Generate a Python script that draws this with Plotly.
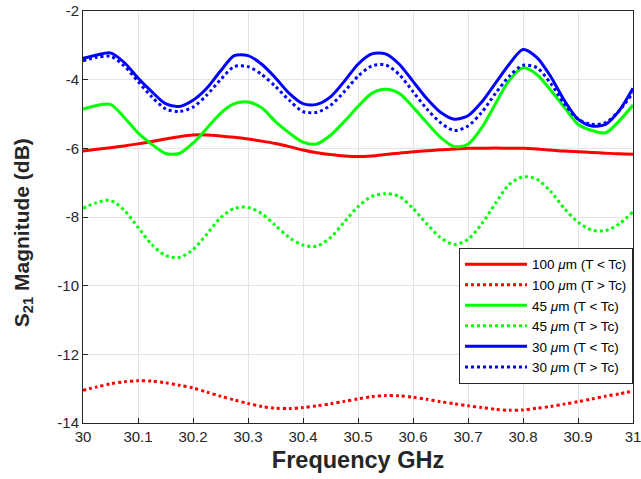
import plotly.graph_objects as go

freq = [30.000, 30.025, 30.050, 30.075, 30.100, 30.125, 30.150, 30.175, 30.200, 30.225,
        30.250, 30.275, 30.300, 30.325, 30.350, 30.375, 30.400, 30.425, 30.450, 30.475,
        30.500, 30.525, 30.550, 30.575, 30.600, 30.625, 30.650, 30.675, 30.700, 30.725,
        30.750, 30.775, 30.800, 30.825, 30.850, 30.875, 30.900, 30.925, 30.950, 30.975, 31.000]

red_below = [-6.08, -6.03, -5.98, -5.93, -5.87, -5.80, -5.73, -5.66, -5.61, -5.61,
             -5.64, -5.68, -5.73, -5.79, -5.86, -5.95, -6.05, -6.13, -6.18, -6.22,
             -6.24, -6.22, -6.18, -6.14, -6.10, -6.07, -6.04, -6.02, -6.00, -6.00,
             -5.99, -6.00, -6.00, -6.02, -6.05, -6.08, -6.10, -6.12, -6.14, -6.16, -6.17]

red_above = [-13.05, -12.95, -12.86, -12.80, -12.77, -12.78, -12.83, -12.90, -12.98, -13.10,
             -13.22, -13.33, -13.43, -13.52, -13.57, -13.58, -13.55, -13.50, -13.44, -13.37,
             -13.30, -13.23, -13.20, -13.21, -13.25, -13.31, -13.38, -13.44, -13.50, -13.55,
             -13.60, -13.63, -13.62, -13.57, -13.52, -13.45, -13.38, -13.30, -13.22, -13.15, -13.07]

green_below = [-4.86, -4.75, -4.72, -5.10, -5.55, -5.88, -6.15, -6.15, -5.85, -5.42,
               -4.98, -4.70, -4.65, -4.82, -5.22, -5.55, -5.82, -5.87, -5.62, -5.22,
               -4.78, -4.40, -4.28, -4.40, -4.80, -5.25, -5.68, -5.95, -5.88, -5.40,
               -4.70, -4.02, -3.65, -3.85, -4.30, -4.80, -5.30, -5.48, -5.55, -5.20, -4.74]

green_above = [-7.75, -7.58, -7.52, -7.80, -8.30, -8.80, -9.12, -9.18, -8.95, -8.50,
               -8.02, -7.75, -7.72, -7.90, -8.25, -8.60, -8.82, -8.85, -8.60, -8.15,
               -7.70, -7.40, -7.32, -7.40, -7.75, -8.20, -8.60, -8.80, -8.65, -8.20,
               -7.60, -7.05, -6.83, -6.90, -7.25, -7.75, -8.15, -8.38, -8.40, -8.20, -7.85]

blue_below = [-3.38, -3.28, -3.22, -3.50, -3.95, -4.35, -4.70, -4.78, -4.60, -4.25,
              -3.75, -3.30, -3.30, -3.55, -3.95, -4.40, -4.70, -4.72, -4.50, -4.05,
              -3.55, -3.25, -3.25, -3.55, -4.05, -4.55, -4.95, -5.15, -5.05, -4.65,
              -4.10, -3.55, -3.12, -3.35, -3.90, -4.60, -5.15, -5.35, -5.30, -4.90, -4.25]

blue_above = [-3.45, -3.35, -3.32, -3.60, -4.05, -4.50, -4.85, -4.93, -4.80, -4.45,
              -4.00, -3.62, -3.62, -3.85, -4.20, -4.60, -4.93, -4.95, -4.75, -4.35,
              -3.90, -3.60, -3.57, -3.85, -4.35, -4.85, -5.25, -5.48, -5.35, -4.95,
              -4.40, -3.90, -3.58, -3.65, -4.10, -4.70, -5.15, -5.30, -5.25, -4.90, -4.38]

series = [
    ("100 <i>μ</i>m (T &lt; Tc)", red_below, "#ff0000", "solid"),
    ("100 <i>μ</i>m (T &gt; Tc)", red_above, "#ff0000", "dot"),
    ("45 <i>μ</i>m (T &lt; Tc)", green_below, "#00ff00", "solid"),
    ("45 <i>μ</i>m (T &gt; Tc)", green_above, "#00ff00", "dot"),
    ("30 <i>μ</i>m (T &lt; Tc)", blue_below, "#0000ff", "solid"),
    ("30 <i>μ</i>m (T &gt; Tc)", blue_above, "#0000ff", "dot"),
]

x_ticks = [30.0, 30.1, 30.2, 30.3, 30.4, 30.5, 30.6, 30.7, 30.8, 30.9, 31.0]
x_tick_labels = ["30", "30.1", "30.2", "30.3", "30.4", "30.5", "30.6", "30.7", "30.8", "30.9", "31"]
y_ticks = [-14, -12, -10, -8, -6, -4, -2]
y_tick_labels = ["-14", "-12", "-10", "-8", "-6", "-4", "-2"]

fig = go.Figure()
for name, vals, color, dash in series:
    fig.add_trace(go.Scatter(x=freq, y=vals, name=name, mode="lines",
                             line=dict(color=color, width=3, dash=dash, shape="spline", smoothing=0.8)))

font_family = "Liberation Sans, Arial, sans-serif"
axis_common = dict(showline=True, linecolor="#262626", linewidth=1, mirror=True,
                   ticks="inside", ticklen=5, tickcolor="#262626",
                   showgrid=True, gridcolor="#e3e3e3", gridwidth=1, zeroline=False,
                   automargin=False, ticklabeloverflow="allow",
                   tickfont=dict(family=font_family, size=15, color="#262626"))

fig.update_layout(
    width=641, height=479,
    margin=dict(l=83, r=8, t=11, b=56),
    paper_bgcolor="white", plot_bgcolor="white",
    font=dict(family=font_family, color="#262626"),
    xaxis=dict(range=[30, 31], tickvals=x_ticks, ticktext=x_tick_labels,
               title=dict(text="<b>Frequency GHz</b>", font=dict(size=23.5, color="#262626"), standoff=7),
               **axis_common),
    yaxis=dict(range=[-14, -2], tickvals=y_ticks, ticktext=y_tick_labels,
               **axis_common),
    legend=dict(x=1, xanchor="right", y=0.095, yanchor="bottom",
                bgcolor="white", bordercolor="#262626", borderwidth=1,
                font=dict(family=font_family, size=13.5, color="#000000"),
                tracegroupgap=0, itemwidth=62),
    showlegend=True,
)

fig.add_annotation(text="<b>S<sub>21</sub> Magnitude (dB)</b>", textangle=-90,
                   xref="paper", yref="paper", x=-0.11, y=0.462,
                   xanchor="center", yanchor="middle", showarrow=False,
                   font=dict(family=font_family, size=21, color="#262626"))

fig.write_html("out.html")
